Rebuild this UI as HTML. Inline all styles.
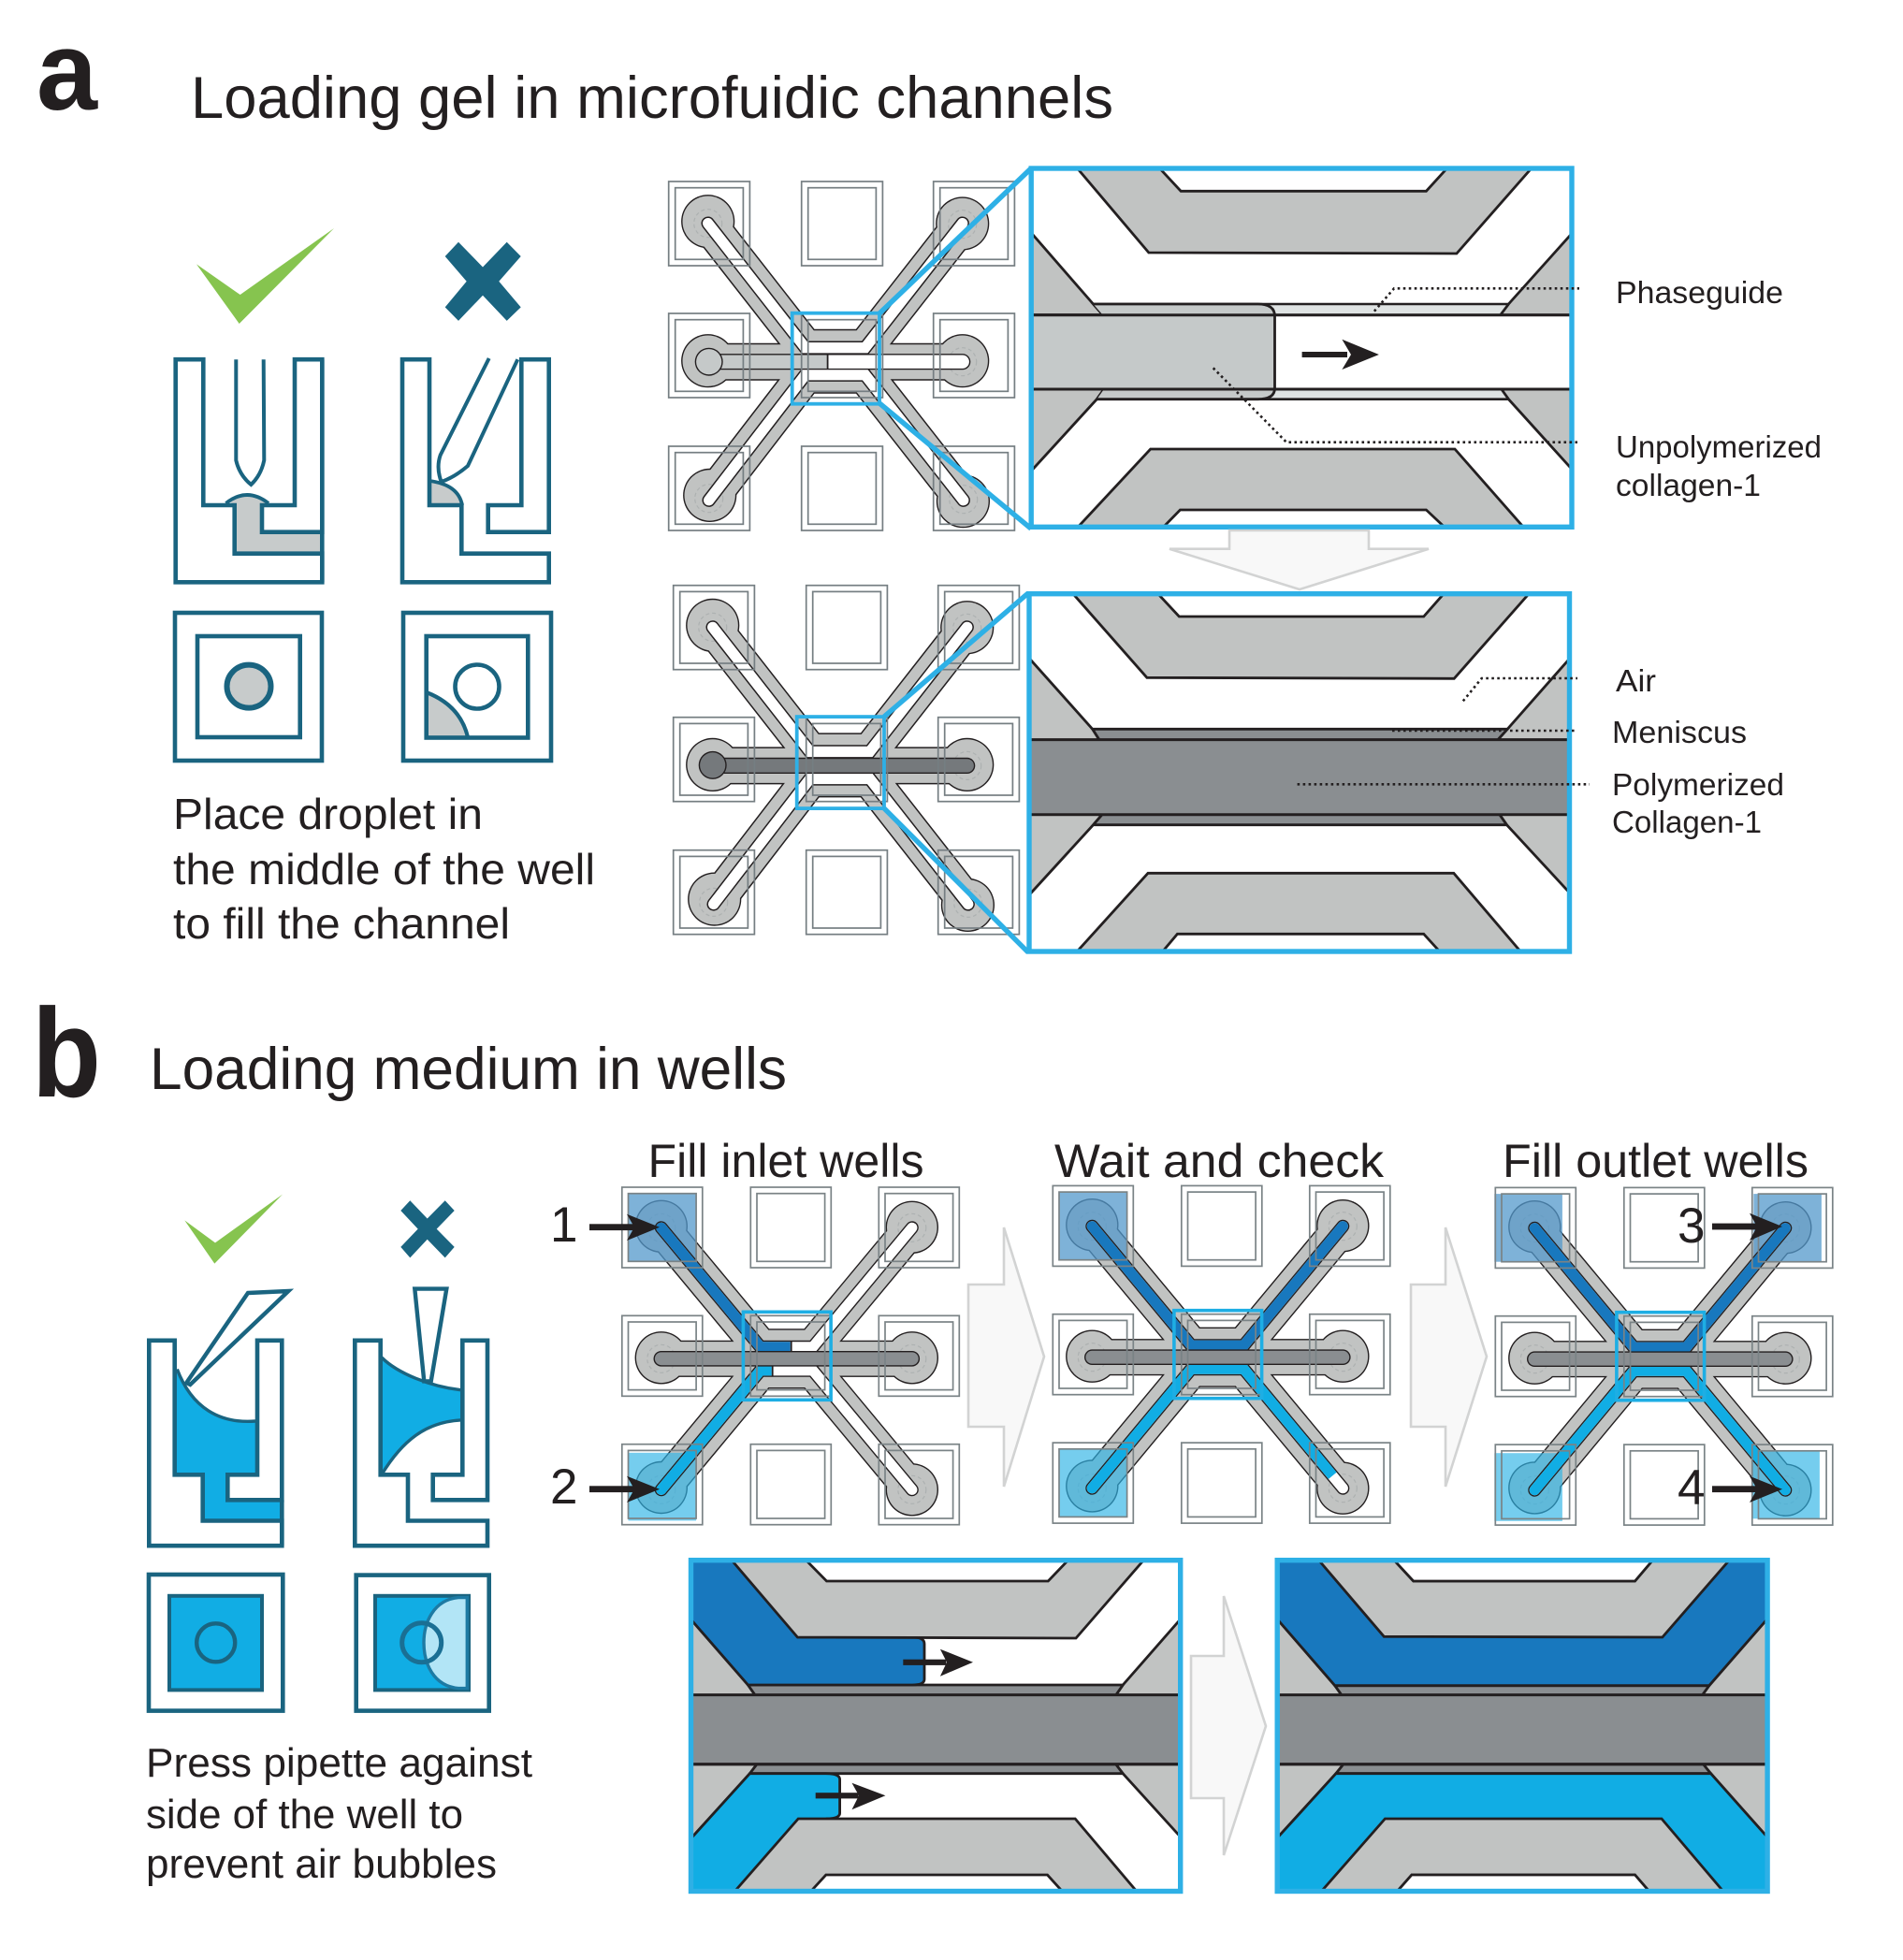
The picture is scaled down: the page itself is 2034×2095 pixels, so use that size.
<!DOCTYPE html>
<html><head><meta charset="utf-8"><style>
html,body{margin:0;padding:0;background:#fff}
svg{display:block}
text{font-family:"Liberation Sans",sans-serif;fill:#231f20}
.k{stroke:#231f20;fill:none}
.g{fill:#c1c3c2;stroke:#231f20;stroke-width:2.8;stroke-linejoin:miter}
.p{fill:#8a8e91;stroke:#231f20;stroke-width:2.8}
.t{fill:none;stroke:#1a6480;stroke-width:4.6;stroke-linejoin:miter}
.d{fill:none;stroke:#231f20;stroke-width:2.6;stroke-dasharray:2.6 3.4}
.bx{fill:none;stroke:#2eb0e6;stroke-width:5.4}
.zl{stroke:#2eb0e6;stroke-width:5.4;fill:none}
.ga{fill:#f8f8f8;stroke:#d2d3d3;stroke-width:2.6}
</style></head><body>
<svg xmlns="http://www.w3.org/2000/svg" width="2034" height="2095" viewBox="0 0 2034 2095">
<defs>
<clipPath id="c1"><rect x="1102.2" y="180" width="577.8" height="383.3"/></clipPath>
<clipPath id="c2"><rect x="1100" y="634.7" width="577.5" height="382.3"/></clipPath>
<clipPath id="c3"><rect x="738.5" y="1667.7" width="523.2" height="353.8"/></clipPath>
<clipPath id="c4"><rect x="1365.2" y="1667.7" width="523.9" height="353.8"/></clipPath>
<g id="haloA">
 <g fill="none" stroke="#231f20" stroke-width="40">
  <path d="M-136,-148L-32,-15L32,-15L136,-148"/><path d="M-135,148L-32,14L32,14L137,148"/><path d="M-136,0H136"/>
 </g>
 <g fill="#231f20"><circle cx="-136" cy="-150" r="28.6"/><circle cx="136" cy="-147.7" r="28.6"/><circle cx="-134" cy="142.7" r="28.6"/><circle cx="136.7" cy="149" r="28.6"/><circle cx="-136" cy="-1" r="28.6"/><circle cx="136" cy="-1" r="28.6"/></g>
 <g fill="none" stroke="#c1c3c2" stroke-width="37">
  <path d="M-136,-148L-32,-15L32,-15L136,-148"/><path d="M-135,148L-32,14L32,14L137,148"/><path d="M-136,0H136"/>
 </g>
 <g fill="#c1c3c2"><circle cx="-136" cy="-150" r="27.2"/><circle cx="136" cy="-147.7" r="27.2"/><circle cx="-134" cy="142.7" r="27.2"/><circle cx="136.7" cy="149" r="27.2"/><circle cx="-136" cy="-1" r="27.2"/><circle cx="136" cy="-1" r="27.2"/></g>
 <g fill="none" stroke="#adb1b1" stroke-width="1.2" stroke-dasharray="4 3"><circle cx="-136" cy="-148" r="15"/><circle cx="136" cy="-147" r="15"/><circle cx="-135" cy="146" r="15"/><circle cx="137" cy="147" r="15"/><circle cx="136" cy="0" r="15"/></g>
</g>
<g id="chanA">
 <path d="M-136,-148L-32,-15L32,-15L136,-148" fill="none" stroke="#231f20" stroke-width="14.4" stroke-linecap="round"/>
 <path d="M-135,148L-32,14L32,14L137,148" fill="none" stroke="#231f20" stroke-width="14.4" stroke-linecap="round"/>
 <path d="M-136,-148L-32,-15L32,-15L136,-148" fill="none" stroke="#fff" stroke-width="11.4" stroke-linecap="round"/>
 <path d="M-135,148L-32,14L32,14L137,148" fill="none" stroke="#fff" stroke-width="11.4" stroke-linecap="round"/>
</g>
<g id="wA"><rect x="0" y="0" width="86.7" height="90"/><rect x="7" y="6.7" width="72.7" height="76.6"/></g>
<g id="wellsA" fill="none" stroke="#757e82" stroke-width="1.7">
 <use href="#wA" x="-178" y="-192.7"/><use href="#wA" x="-36" y="-192.7"/><use href="#wA" x="105" y="-192.7"/>
 <use href="#wA" x="-178" y="-51.7"/><use href="#wA" x="-36" y="-51.7"/><use href="#wA" x="105" y="-51.7"/>
 <use href="#wA" x="-178" y="90.3"/><use href="#wA" x="-36" y="90.3"/><use href="#wA" x="105" y="90.3"/>
</g>
<g id="haloB">
 <g fill="none" stroke="#231f20" stroke-width="39.2">
  <path d="M-134,-140L-28,-12.5L28,-12.5L134,-140"/><path d="M-134,140L-28,12.5L28,12.5L134,140"/><path d="M-134,0H134"/>
 </g>
 <g fill="#231f20"><circle cx="-134" cy="-141.5" r="28.2"/><circle cx="134" cy="-140.5" r="28.2"/><circle cx="-134" cy="137.7" r="28.2"/><circle cx="134" cy="140" r="28.2"/><circle cx="-134" cy="-1" r="28.2"/><circle cx="134" cy="-1" r="28.2"/></g>
 <g fill="none" stroke="#c1c3c2" stroke-width="36.4">
  <path d="M-134,-140L-28,-12.5L28,-12.5L134,-140"/><path d="M-134,140L-28,12.5L28,12.5L134,140"/><path d="M-134,0H134"/>
 </g>
 <g fill="#c1c3c2"><circle cx="-134" cy="-141.5" r="26.8"/><circle cx="134" cy="-140.5" r="26.8"/><circle cx="-134" cy="137.7" r="26.8"/><circle cx="134" cy="140" r="26.8"/><circle cx="-134" cy="-1" r="26.8"/><circle cx="134" cy="-1" r="26.8"/></g>
 <g fill="none" stroke="#adb1b1" stroke-width="1.2" stroke-dasharray="4 3"><circle cx="-134" cy="-140" r="15"/><circle cx="134" cy="-140" r="15"/><circle cx="-134" cy="140" r="15"/><circle cx="134" cy="140" r="15"/><circle cx="-134" cy="0" r="15"/><circle cx="134" cy="0" r="15"/></g>
</g>
<g id="chanB">
 <path d="M-134,-140L-28,-12.5L28,-12.5L134,-140" fill="none" stroke="#231f20" stroke-width="14" stroke-linecap="round"/>
 <path d="M-134,140L-28,12.5L28,12.5L134,140" fill="none" stroke="#231f20" stroke-width="14" stroke-linecap="round"/>
 <path d="M-134,-140L-28,-12.5L28,-12.5L134,-140" fill="none" stroke="#fff" stroke-width="11.2" stroke-linecap="round"/>
 <path d="M-134,140L-28,12.5L28,12.5L134,140" fill="none" stroke="#fff" stroke-width="11.2" stroke-linecap="round"/>
</g>
<g id="centB">
 <path d="M-134,0H134" stroke="#231f20" stroke-width="16.6" stroke-linecap="round" fill="none"/>
 <path d="M-134,0H134" stroke="#8a8e91" stroke-width="13.8" stroke-linecap="round" fill="none"/>
</g>
<g id="wB"><rect x="0" y="0" width="86" height="86"/><rect x="6.7" y="6.7" width="72.6" height="72.6"/></g>
<g id="wellsB" fill="none" stroke="#7a8386" stroke-width="1.7">
 <use href="#wB" x="-176" y="-183.3"/><use href="#wB" x="-38.5" y="-183.3"/><use href="#wB" x="98.5" y="-183.3"/>
 <use href="#wB" x="-176" y="-46"/><use href="#wB" x="-38.5" y="-46"/><use href="#wB" x="98.5" y="-46"/>
 <use href="#wB" x="-176" y="91.4"/><use href="#wB" x="-38.5" y="91.4"/><use href="#wB" x="98.5" y="91.4"/>
</g>
<rect id="boxB" x="-46.4" y="-50" width="93.7" height="94" fill="none" stroke="#1eaee4" stroke-width="3.6"/>
</defs>

<rect width="2034" height="2095" fill="#fff"/>

<!-- headings -->
<text x="39" y="117" font-size="120" font-weight="bold" textLength="65" lengthAdjust="spacingAndGlyphs">a</text>
<text x="204" y="126" font-size="63" textLength="986" lengthAdjust="spacingAndGlyphs">Loading gel in microfuidic channels</text>
<text x="34" y="1172" font-size="135" font-weight="bold" textLength="74" lengthAdjust="spacingAndGlyphs">b</text>
<text x="160" y="1164" font-size="63" textLength="681" lengthAdjust="spacingAndGlyphs">Loading medium in wells</text>

<!-- section a left -->
<polygon points="210,282.4 256.7,315 357,244 255.7,346" fill="#86c44f"/>
<polygon points="490,258.7 516,285.5 541.7,258.7 556.7,274 533.3,300.8 556.7,328.4 541.7,342.9 516,315.7 490,342.9 475.7,328.4 498.7,300.8 475.7,274" fill="#1a6480"/>

<path d="M250.7,540 V591.7 H344.3 V568.7 H280 V540 L286,536 Q266,522 245,536Z" fill="#c7cbcb"/>
<path class="t" d="M187.7,384.2H217.3V540H250.7V591.7H344.3V622.3H187.7Z"/>
<path class="t" d="M344.3,384.2H315V540H280V568.7H344.3Z"/>
<path class="t" d="M344.3,384.2V622.3"/>
<path d="M241.5,538Q264,520 287,538" fill="none" stroke="#1a6480" stroke-width="3.8"/>
<path d="M252.3,384.2V492Q256,508 268.3,518Q279,508 282.3,492L281.7,384.2" fill="none" stroke="#1a6480" stroke-width="4"/>

<path d="M461,516Q490,520 493.3,540H461Z" fill="#c7cbcb"/>
<path class="t" d="M430,384.2H459V540H493.3V591.7H586.7V622.3H430Z"/>
<path class="t" d="M586.7,384.2H557.3V540H521.7V568.7H586.7Z"/>
<path d="M459,514Q490,518 494,540" fill="none" stroke="#1a6480" stroke-width="3.8"/>
<path d="M522.7,383L470.7,486.4Q466,500 471.7,515Q486,510 500,498L553.3,384.2" fill="none" stroke="#1a6480" stroke-width="4"/>

<rect class="t" x="187" y="655" width="157" height="158"/>
<rect class="t" x="211" y="680" width="109.7" height="108"/>
<ellipse cx="266" cy="733.6" rx="23.5" ry="23" fill="#c7cbcb" stroke="#1a6480" stroke-width="6"/>
<path d="M455.7,740Q492,754 500,788H455.7Z" fill="#c7cbcb"/>
<rect class="t" x="431" y="655" width="158" height="158"/>
<rect class="t" x="455.7" y="680" width="108.6" height="108.5"/>
<path d="M455.7,740Q492,754 500,788" fill="none" stroke="#1a6480" stroke-width="4.2"/>
<circle cx="510" cy="734" r="23.5" fill="none" stroke="#1a6480" stroke-width="4.6"/>

<text x="185" y="886" font-size="46" textLength="331" lengthAdjust="spacingAndGlyphs">Place droplet in</text>
<text x="185" y="945" font-size="46" textLength="451" lengthAdjust="spacingAndGlyphs">the middle of the well</text>
<text x="185" y="1003" font-size="46" textLength="360" lengthAdjust="spacingAndGlyphs">to fill the channel</text>

<!-- chip a1 -->
<g transform="translate(892.7,386.7)">
 <use href="#haloA"/><use href="#chanA"/>
 <path d="M-136,0H136" stroke="#231f20" stroke-width="17.2" stroke-linecap="round" fill="none"/>
 <path d="M-8,0H136" stroke="#fff" stroke-width="14.4" stroke-linecap="round" fill="none"/>
 <rect x="-136" y="-7.2" width="128" height="14.4" fill="#c5c9c9"/>
 <rect x="-9" y="-8" width="1.8" height="16" fill="#231f20"/>
 <circle cx="-135" cy="0" r="15" fill="#231f20"/><circle cx="-135" cy="0" r="13.6" fill="#c5c9c9"/>
 <use href="#wellsA"/>
 <rect x="-46" y="-52" width="93.3" height="97" fill="none" stroke="#2eb0e6" stroke-width="3.8"/>
</g>
<line class="zl" x1="940" y1="335" x2="1102" y2="180"/>
<line class="zl" x1="940" y1="431" x2="1102" y2="565"/>

<!-- big panel a1 -->
<rect x="1102" y="180" width="578" height="383.3" fill="#fff"/>
<g clip-path="url(#c1)">
<polygon class="g" points="1098,244 1168.5,325 1178.8,336.7 1098,336.7"/>
<polygon class="g" points="1685,244 1612.4,325 1603.6,336.7 1685,336.7"/>
<polygon class="g" points="1098,508 1172.3,426.7 1180,416 1098,416"/>
<polygon class="g" points="1685,507 1612.4,426.7 1604.7,416 1685,416"/>
<polygon points="1168.5,325 1612.4,325 1603.6,336.7 1178.8,336.7" fill="#dfe3e3" stroke="#231f20" stroke-width="2.6"/>
<polygon points="1172.3,426.7 1612.4,426.7 1604.7,416 1180,416" fill="#dfe3e3" stroke="#231f20" stroke-width="2.6"/>
<polygon class="g" points="1146.5,174 1227.8,270 1556.9,271 1642,174 1552,174 1524.4,204.3 1262.2,204.3 1234,174"/>
<polygon class="g" points="1229.7,480 1555,480 1635,571 1552,571 1524.4,545 1261.4,545 1236,571 1145,571"/>
<path d="M1098,336.7H1685V416H1098Z" fill="#fff" stroke="#231f20" stroke-width="3"/>
<path d="M1168.5,325H1344.5Q1362.5,325 1362.5,338V415Q1362.5,426.7 1344.5,426.7H1172.3L1180,416H1098V336.7H1178.8Z" fill="#c5c9c9"/>
<path d="M1098,336.7H1362.5M1098,416H1362.5" stroke="#231f20" stroke-width="3" fill="none"/>
<path d="M1168.5,325H1344.5Q1362.5,325 1362.5,338V415Q1362.5,426.7 1344.5,426.7H1172.3" fill="none" stroke="#231f20" stroke-width="2.8"/>
<path d="M1391.6,376H1440V382H1391.6Z" fill="#231f20"/>
<polygon points="1434.4,362.7 1473.9,379 1434.4,395 1444,379" fill="#231f20"/>
</g>
<rect class="bx" x="1102.2" y="180" width="577.8" height="383.3"/>
<path class="d" d="M1468.9,332.7L1490,308.3H1688"/>
<path class="d" d="M1296.7,393.3L1375,472.7H1686"/>
<text x="1727" y="324" font-size="33" textLength="179" lengthAdjust="spacingAndGlyphs">Phaseguide</text>
<text x="1727" y="489" font-size="33" textLength="220" lengthAdjust="spacingAndGlyphs">Unpolymerized</text>
<text x="1727" y="530" font-size="33" textLength="155" lengthAdjust="spacingAndGlyphs">collagen-1</text>

<!-- arrow down -->
<polygon class="ga" points="1314,567 1314,586.7 1250,586.7 1389,630 1527,586.7 1463,586.7 1463,567"/>

<!-- chip a2 -->
<g transform="translate(897.7,818.4)">
 <use href="#haloA"/><use href="#chanA"/>
 <path d="M-136,0H136" stroke="#231f20" stroke-width="17.2" stroke-linecap="round" fill="none"/>
 <path d="M-136,0H136" stroke="#75797c" stroke-width="14.4" stroke-linecap="round" fill="none"/>
 <circle cx="-136" cy="-0.5" r="15" fill="#231f20"/><circle cx="-136" cy="-0.5" r="13.6" fill="#75797c"/>
 <use href="#wellsA"/>
 <rect x="-46" y="-52.3" width="93.3" height="98" fill="none" stroke="#2eb0e6" stroke-width="3.8"/>
</g>
<line class="zl" x1="945" y1="766" x2="1099" y2="634"/>
<line class="zl" x1="945" y1="864" x2="1099" y2="1018"/>

<!-- big panel a2 -->
<rect x="1100" y="635" width="577" height="382" fill="#fff"/>
<g clip-path="url(#c2)">
<polygon class="g" points="1096,699 1167.7,779.3 1175,790.7 1096,790.7"/>
<polygon class="g" points="1682,699 1611.2,779.3 1600.9,790.7 1682,790.7"/>
<polygon class="g" points="1096,961 1168.5,881.7 1178,870.7 1096,870.7"/>
<polygon class="g" points="1682,959 1610.5,881.7 1602.8,870.7 1682,870.7"/>
<polygon class="p" points="1167.7,779.3 1611.2,779.3 1600.9,790.7 1175,790.7"/>
<polygon class="p" points="1168.5,881.7 1610.5,881.7 1602.8,870.7 1178,870.7"/>
<polygon class="g" points="1141,628 1225.9,724.3 1554.2,725.3 1640,628 1549,628 1521.7,659 1260.3,659 1231.5,628"/>
<polygon class="g" points="1227,933.3 1553.8,933.3 1632,1025 1546,1025 1521.7,998.3 1258.4,998.3 1236,1025 1144,1025"/>
<path class="p" d="M1096,790.7H1682V870.7H1096Z" stroke-width="3"/>
</g>
<rect class="bx" x="1100" y="634.7" width="577.5" height="382.3"/>
<path class="d" d="M1563.8,749.3L1583.7,725H1686"/>
<path class="d" d="M1488,781H1684"/>
<path class="d" d="M1386.6,838.3H1699"/>
<text x="1727" y="739" font-size="33" textLength="43" lengthAdjust="spacingAndGlyphs">Air</text>
<text x="1723" y="794" font-size="33" textLength="144" lengthAdjust="spacingAndGlyphs">Meniscus</text>
<text x="1723" y="850" font-size="33" textLength="184" lengthAdjust="spacingAndGlyphs">Polymerized</text>
<text x="1723" y="890" font-size="33" textLength="160" lengthAdjust="spacingAndGlyphs">Collagen-1</text>

<!-- section b left -->
<polygon points="197.3,1304.4 230,1328.4 302,1276.6 229.3,1350.6" fill="#86c44f"/>
<polygon points="438.3,1283.3 456.7,1302.5 475.7,1283.3 485.7,1294 466.7,1313.6 485.7,1332.9 475.7,1344.4 456.7,1324.7 438.3,1344.4 428.3,1332.9 446.7,1313.6 428.3,1294" fill="#1a6480"/>

<path d="M189,1463.5C205,1505 235,1522 273,1519L275,1576.3H243.3V1603.3H301.3V1625.5H216.7V1576.3H186.7V1463Z" fill="#11ade4"/>
<path class="t" d="M159.3,1432.8H186.7V1576.3H216.7V1625.5H301.3V1652.2H159.3Z"/>
<path class="t" d="M301.3,1432.8H275V1576.3H243.3V1603.3H301.3Z"/>
<path class="t" d="M301.3,1603.3V1652.2"/>
<path d="M189.3,1463.5C205,1505 235,1522 273,1519" fill="none" stroke="#1a6480" stroke-width="3.4"/>
<polygon points="265,1382 308.3,1380 203.3,1480 199.3,1478" fill="#fff" stroke="#1a6480" stroke-width="4.4"/>

<path d="M407,1451C425,1468 460,1482 492.3,1485.7V1517.9C455,1520 430,1540 408,1576Z" fill="#11ade4"/>
<path class="t" d="M379.3,1432.8H406.7V1576.3H436V1625.5H521V1652.2H379.3Z"/>
<path class="t" d="M521,1432.8H494.3V1576.3H462.7V1603.3H521Z"/>
<path d="M408,1451C425,1468 460,1482 492.3,1485.7M492.3,1517.9C455,1520 430,1540 408,1576" fill="none" stroke="#1a6480" stroke-width="3.4"/>
<polygon points="443.3,1377.6 477.3,1377.6 460.7,1476.4 453.3,1476.4" fill="#fff" stroke="#1a6480" stroke-width="4.4"/>

<rect class="t" x="159" y="1683" width="143.3" height="145.6"/>
<rect x="181" y="1705.8" width="99" height="100.6" fill="#11ade4" stroke="#1a6480" stroke-width="4"/>
<circle cx="230.7" cy="1755.8" r="20.5" fill="none" stroke="#1a6480" stroke-width="4.4"/>
<rect class="t" x="380.7" y="1683.6" width="142" height="145"/>
<rect x="401" y="1705.8" width="100" height="100.6" fill="#11ade4" stroke="#1a6480" stroke-width="4"/>
<path d="M490,1707.6C463,1710 453,1735 453,1755.8C453,1778 463,1802 490,1804.6H499.3V1707.6Z" fill="#fff" fill-opacity=".68" stroke="#1d7aa3" stroke-width="3.4"/>
<circle cx="450.7" cy="1755.8" r="21" fill="none" stroke="#1a6f94" stroke-width="5"/>

<text x="156" y="1899" font-size="44" textLength="413" lengthAdjust="spacingAndGlyphs">Press pipette against</text>
<text x="156" y="1954" font-size="44" textLength="339" lengthAdjust="spacingAndGlyphs">side of the well to</text>
<text x="156" y="2007" font-size="44" textLength="375" lengthAdjust="spacingAndGlyphs">prevent air bubbles</text>

<text x="692.5" y="1258" font-size="50" textLength="295" lengthAdjust="spacingAndGlyphs">Fill inlet wells</text>
<text x="1127" y="1258" font-size="50" textLength="352" lengthAdjust="spacingAndGlyphs">Wait and check</text>
<text x="1606" y="1258" font-size="50" textLength="327" lengthAdjust="spacingAndGlyphs">Fill outlet wells</text>

<!-- chip b1 -->
<g transform="translate(840.8,1452.3)">
 <use href="#haloB"/>
 <rect x="-169.3" y="-176.6" width="72.6" height="72.6" fill="#5398cb" fill-opacity=".75"/>
 <rect x="-169.3" y="100.5" width="72.6" height="72.6" fill="#2db3e5" fill-opacity=".66"/>
 <use href="#chanB"/>
 <path d="M-134,-140L-28,-12.5L4,-12.5" fill="none" stroke="#1878be" stroke-width="11.2"/><circle cx="-134" cy="-140" r="5.6" fill="#1878be"/>
 <rect x="4" y="-19" width="1.8" height="13" fill="#231f20"/>
 <path d="M-134,140L-28,12.5L-16,12.5" fill="none" stroke="#11ade4" stroke-width="11.2"/><circle cx="-134" cy="140" r="5.6" fill="#11ade4"/>
 <rect x="-16" y="6" width="1.8" height="13" fill="#231f20"/>
 <use href="#centB"/>
 <use href="#wellsB"/><use href="#boxB"/>
</g>
<!-- chip b2 -->
<g transform="translate(1301.3,1450.7)">
 <use href="#haloB"/>
 <rect x="-169.3" y="-176.6" width="72.6" height="72.6" fill="#5398cb" fill-opacity=".75"/>
 <rect x="-169.3" y="98.5" width="72.6" height="72.6" fill="#2db3e5" fill-opacity=".66"/>
 <use href="#chanB"/>
 <path d="M-134,-140L-28,-12.5L28,-12.5L134,-140" fill="none" stroke="#1878be" stroke-width="11.2" stroke-linecap="round"/>
 <path d="M-134,140L-28,12.5L28,12.5L123,126.6" fill="none" stroke="#11ade4" stroke-width="11.2"/><circle cx="-134" cy="140" r="5.6" fill="#11ade4"/>
 <use href="#centB"/>
 <use href="#wellsB"/><use href="#boxB"/>
</g>
<!-- chip b3 -->
<g transform="translate(1774.3,1452.7)">
 <use href="#haloB"/>
 <rect x="-177" y="-176.6" width="72.6" height="72.6" fill="#5398cb" fill-opacity=".75"/>
 <rect x="-177" y="100.5" width="72.6" height="72.6" fill="#2db3e5" fill-opacity=".66"/>
 <rect x="100" y="-176.6" width="72.6" height="72.6" fill="#5398cb" fill-opacity=".75"/>
 <rect x="98" y="98" width="72.6" height="72.6" fill="#2db3e5" fill-opacity=".66"/>
 <use href="#chanB"/>
 <path d="M-134,-140L-28,-12.5L28,-12.5L134,-140" fill="none" stroke="#1878be" stroke-width="11.2" stroke-linecap="round"/>
 <path d="M-134,140L-28,12.5L28,12.5L134,140" fill="none" stroke="#11ade4" stroke-width="11.2" stroke-linecap="round"/>
 <use href="#centB"/>
 <use href="#wellsB"/><use href="#boxB"/>
</g>

<!-- numbered arrows -->
<g fill="#231f20">
 <rect x="630" y="1308.3" width="48" height="6.8"/><polygon points="670,1297.7 705,1311.7 670,1326 678,1311.7"/>
 <rect x="630" y="1588.3" width="48" height="6.8"/><polygon points="670,1577.7 705,1591.7 670,1606 678,1591.7"/>
 <rect x="1830" y="1307.6" width="48" height="6.8"/><polygon points="1870,1296.7 1905,1311 1870,1326 1878,1311"/>
 <rect x="1830" y="1588.3" width="48" height="6.8"/><polygon points="1870,1577.7 1905,1591.7 1870,1606 1878,1591.7"/>
</g>
<text x="588" y="1327" font-size="53">1</text>
<text x="588" y="1607" font-size="53">2</text>
<text x="1793" y="1328" font-size="53">3</text>
<text x="1793" y="1608" font-size="53">4</text>

<!-- grey right arrows -->
<polygon class="ga" points="1035,1373 1073,1373 1073,1312 1116,1450 1073,1589 1073,1525 1035,1525"/>
<polygon class="ga" points="1508,1373 1545,1373 1545,1312 1589,1450 1545,1589 1545,1525 1508,1525"/>
<polygon class="ga" points="1273,1770 1308,1770 1308,1706 1353,1845 1308,1983 1308,1922 1273,1922"/>

<!-- big panel b1 -->
<rect x="739" y="1668" width="522.7" height="353.5" fill="#fff"/>
<g clip-path="url(#c3)">
<polygon class="g" points="735,1727 799.5,1801 807,1811.7 735,1811.7"/>
<polygon class="g" points="1265,1727 1200.2,1801 1192.8,1811.7 1265,1811.7"/>
<polygon class="g" points="735,1969 801.4,1895.7 808.8,1886 735,1886"/>
<polygon class="g" points="1265,1967 1200.2,1895.7 1192.8,1886 1265,1886"/>
<polygon class="p" points="799.5,1801 1200.2,1801 1192.8,1811.7 807,1811.7"/>
<polygon class="p" points="801.4,1895.7 1200.2,1895.7 1192.8,1886 808.8,1886"/>
<path d="M735,1660H775.5L852.4,1750H975Q988,1750 988,1757V1795Q988,1801 975,1801H799.5L735,1727Z" fill="#1878be"/>
<path d="M735,1727L799.5,1801H975Q988,1801 988,1795V1757Q988,1750 975,1750H852" fill="none" stroke="#231f20" stroke-width="2.8"/>
<path d="M735,1969L801.4,1895.7H882.8Q897.6,1895.7 897.6,1902V1938Q897.6,1944 882.8,1944H853.2L784,2025H735Z" fill="#11ade4"/>
<path d="M735,1969L801.4,1895.7H882.8Q897.6,1895.7 897.6,1902V1938Q897.6,1944 882.8,1944" fill="none" stroke="#231f20" stroke-width="2.8"/>
<polygon class="g" points="775.5,1660 852.4,1750 1150,1751 1229,1660 1149,1660 1120.3,1690 883.5,1690 854,1660"/>
<polygon class="g" points="853.2,1944 1149.2,1944 1222,2030 1143,2030 1119.5,2004 882.8,2004 859,2030 778,2030"/>
<path class="p" d="M735,1811.7H1265V1885.5H735Z" stroke-width="3"/>
<g fill="#231f20">
 <rect x="965.3" y="1773.7" width="46" height="6.2"/><polygon points="1004.9,1762.7 1040,1776.7 1004.9,1791.7 1012,1776.7"/>
 <rect x="871.7" y="1916.2" width="46" height="6.2"/><polygon points="910.5,1905.7 946.4,1919.3 910.5,1934.3 918,1919.3"/>
</g>
</g>
<rect class="bx" x="738.5" y="1667.7" width="523.2" height="353.8"/>

<!-- big panel b2 -->
<rect x="1365" y="1668" width="524" height="353.5" fill="#fff"/>
<g clip-path="url(#c4)">
<polygon class="g" points="1362,1727 1426.8,1801.7 1433.9,1811.7 1362,1811.7"/>
<polygon class="g" points="1892,1727 1826.8,1801.7 1819.6,1811.7 1892,1811.7"/>
<polygon class="g" points="1362,1968 1427.9,1895.7 1435.7,1886 1362,1886"/>
<polygon class="g" points="1892,1967 1828.6,1895.7 1820.7,1886 1892,1886"/>
<polygon class="p" points="1426.8,1801.7 1826.8,1801.7 1819.6,1811.7 1433.9,1811.7"/>
<polygon class="p" points="1427.9,1895.7 1828.6,1895.7 1820.7,1886 1435.7,1886"/>
<path d="M1362,1660H1892V1727L1826.8,1801.7H1426.8L1362,1727Z" fill="#1878be"/>
<path d="M1362,1727L1426.8,1801.7H1826.8L1892,1727" fill="none" stroke="#231f20" stroke-width="2.8"/>
<path d="M1362,1968L1427.9,1895.7H1828.6L1892,1967V2030H1362Z" fill="#11ade4"/>
<path d="M1362,1968L1427.9,1895.7H1828.6L1892,1967" fill="none" stroke="#231f20" stroke-width="2.8"/>
<polygon class="g" points="1403,1660 1479.3,1749.3 1776.8,1750 1855,1660 1773,1660 1747.5,1690 1510.7,1690 1483,1660"/>
<polygon class="g" points="1480.4,1944 1776,1944 1849,2030 1770,2030 1747.5,2004 1508.9,2004 1486,2030 1405,2030"/>
<polygon points="1483,1660 1510.7,1690 1747.5,1690 1773,1660" fill="#fff" stroke="#231f20" stroke-width="2.8"/>
<polygon points="1486,2030 1508.9,2004 1747.5,2004 1770,2030" fill="#fff" stroke="#231f20" stroke-width="2.8"/>
<path class="p" d="M1362,1811.7H1892V1885.5H1362Z" stroke-width="3"/>
</g>
<rect class="bx" x="1365.2" y="1667.7" width="523.9" height="353.8"/>
</svg>
</body></html>
